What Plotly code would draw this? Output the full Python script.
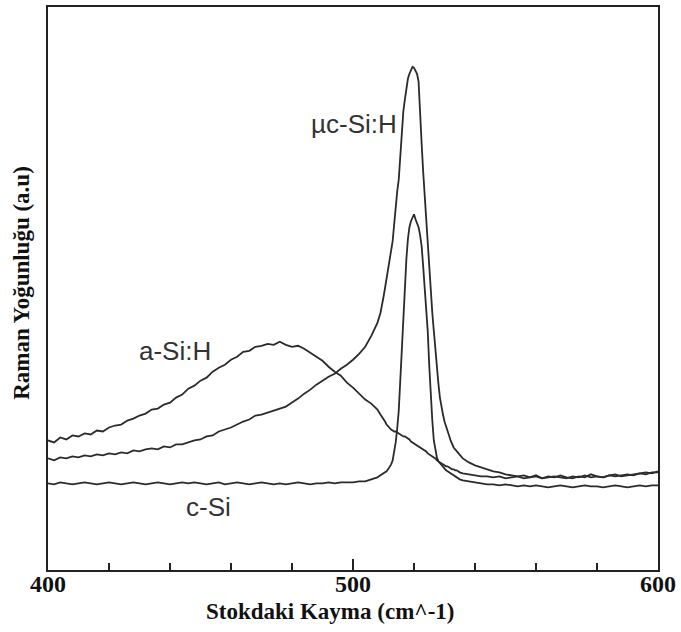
import numpy as np
import plotly.graph_objects as go

# x sampling (cm^-1): coarse outside the peak, fine around 509-535
x_left = list(np.arange(400, 509, 2))          # 400..508
x_peak = list(np.arange(509, 535.01, 0.5))     # 509..535
x_right = list(np.arange(536, 600.01, 2))      # 536..600
x_vals = x_left + x_peak + x_right

# c-Si
csi_left = [87, 86, 88, 87, 86, 87, 88, 87, 86, 87,
            88, 87, 86, 87, 88, 87, 86, 87, 88, 87,
            86, 87, 88, 87, 88, 87, 86, 87, 88, 86,
            87, 88, 87, 86, 87, 88, 87, 86, 87, 86,
            87, 88, 87, 86, 87, 87, 88, 87, 88, 88,
            88, 89, 89, 91, 93]
csi_peak = [95, 96, 97, 98, 99, 101, 103, 106, 110, 118,
            128, 142, 160, 190, 220, 255, 288, 312, 332, 344,
            350, 354, 357, 352, 348, 344, 336, 325, 305, 282,
            262, 240, 205, 175, 150, 130, 120, 113, 109, 107,
            105, 103, 102, 100, 99, 98, 97, 96, 95, 94,
            93, 92, 91]
csi_right = [90, 89, 88, 87, 86, 86, 85, 86, 85, 84,
             85, 84, 85, 84, 83, 84, 85, 84, 83, 84,
             85, 84, 84, 83, 84, 85, 84, 83, 84, 85,
             84, 85, 85]

# a-Si:H
asi_left = [130, 128, 133, 131, 135, 134, 137, 136, 140, 139,
            143, 145, 146, 150, 152, 155, 157, 161, 162, 166,
            168, 173, 176, 182, 185, 190, 193, 199, 203, 206,
            211, 214, 219, 220, 224, 225, 227, 226, 229, 226,
            224, 225, 222, 218, 214, 210, 204, 199, 195, 188,
            183, 177, 171, 167, 161]
asi_peak = [156, 154, 151, 149, 146, 144, 143, 141, 140, 139,
            139, 138, 137, 136, 135, 134, 134, 133, 132, 131,
            129, 128, 127, 126, 125, 124, 123, 122, 121, 120,
            119, 117, 116, 115, 114, 113, 112, 110, 109, 108,
            107, 106, 105, 104, 104, 103, 102, 101, 101, 100,
            100, 99, 98]
asi_right = [97, 96, 95, 94, 94, 93, 94, 92, 93, 94,
             92, 93, 95, 92, 93, 94, 93, 92, 94, 93,
             95, 93, 94, 93, 95, 94, 95, 96, 95, 97,
             96, 98, 98]

# uc-Si:H
ucsi_left = [112, 110, 113, 112, 114, 113, 115, 114, 116, 115,
             117, 116, 118, 117, 120, 119, 121, 122, 121, 124,
             123, 126, 126, 128, 130, 131, 134, 135, 139, 141,
             143, 146, 149, 151, 155, 156, 158, 160, 162, 164,
             168, 172, 177, 181, 186, 190, 194, 197, 202, 206,
             211, 217, 224, 235, 248]
ucsi_peak = [258, 265, 274, 283, 293, 302, 310, 318, 330, 347,
             365, 380, 392, 418, 440, 460, 472, 483, 493, 498,
             502, 505, 504, 500, 498, 490, 465, 428, 400, 375,
             350, 325, 300, 278, 258, 240, 220, 203, 187, 173,
             163, 156, 149, 145, 140, 135, 130, 126, 123, 121,
             119, 117, 115]
ucsi_right = [112, 108, 105, 103, 101, 99, 98, 96, 95, 94,
              95, 93, 94, 92, 94, 93, 95, 93, 92, 94,
              93, 96, 94, 93, 95, 96, 94, 95, 96, 97,
              98, 97, 99]

series = [
    ("c-Si", csi_left + csi_peak + csi_right),
    ("a-Si:H", asi_left + asi_peak + asi_right),
    ("µc-Si:H", ucsi_left + ucsi_peak + ucsi_right),
]

labels = [("µc-Si:H", 500.2, 448), ("a-Si:H", 441.6, 220), ("c-Si", 452.7, 63)]
x_ticks = [400, 500, 600]

line_color = "#2b2b2b"
fig = go.Figure()
for name, yv in series:
    fig.add_trace(go.Scatter(x=x_vals, y=yv, mode="lines", name=name,
                             line=dict(color=line_color, width=1.8),
                             showlegend=False))

annotations = []
for text, lx, ly in labels:
    annotations.append(dict(x=lx, y=ly, xref="x", yref="y", text=text,
                            showarrow=False,
                            font=dict(family="Liberation Sans, Arial", size=26,
                                      color="#333333")))
annotations.append(dict(x=0.462, y=-0.0743, xref="paper", yref="paper",
                        text="<b>Stokdaki Kayma (cm^-1)</b>", showarrow=False,
                        xanchor="center", yanchor="middle",
                        font=dict(family="Liberation Serif", size=23, color="#111111")))
annotations.append(dict(x=0, y=0.51, xref="paper", yref="paper", xshift=-26,
                        text="<b>Raman Yoğunluğu (a.u)</b>", showarrow=False,
                        textangle=-90, xanchor="center", yanchor="middle",
                        font=dict(family="Liberation Serif", size=23, color="#111111")))

fig.update_layout(
    width=681, height=632,
    margin=dict(l=48, r=18, t=5, b=62),
    paper_bgcolor="white", plot_bgcolor="white",
    annotations=annotations,
    xaxis=dict(range=[400, 600], tickvals=x_ticks, ticktext=[str(t) for t in x_ticks],
               ticks="inside", ticklen=11, tickwidth=1.5, tickcolor="#222222",
               minor=dict(dtick=20, ticks="inside", ticklen=7, tickwidth=1.5,
                          tickcolor="#222222", showgrid=False),
               showgrid=False, zeroline=False,
               showline=True, linecolor="#222222", linewidth=2, mirror=True,
               ticklabelstandoff=-9,
               tickfont=dict(family="Liberation Serif", size=24, color="#111111",
                             weight="bold")),
    yaxis=dict(range=[0, 565], showticklabels=False, ticks="", showgrid=False,
               zeroline=False, showline=True, linecolor="#222222", linewidth=2,
               mirror=True),
)

fig.write_html("out.html")
